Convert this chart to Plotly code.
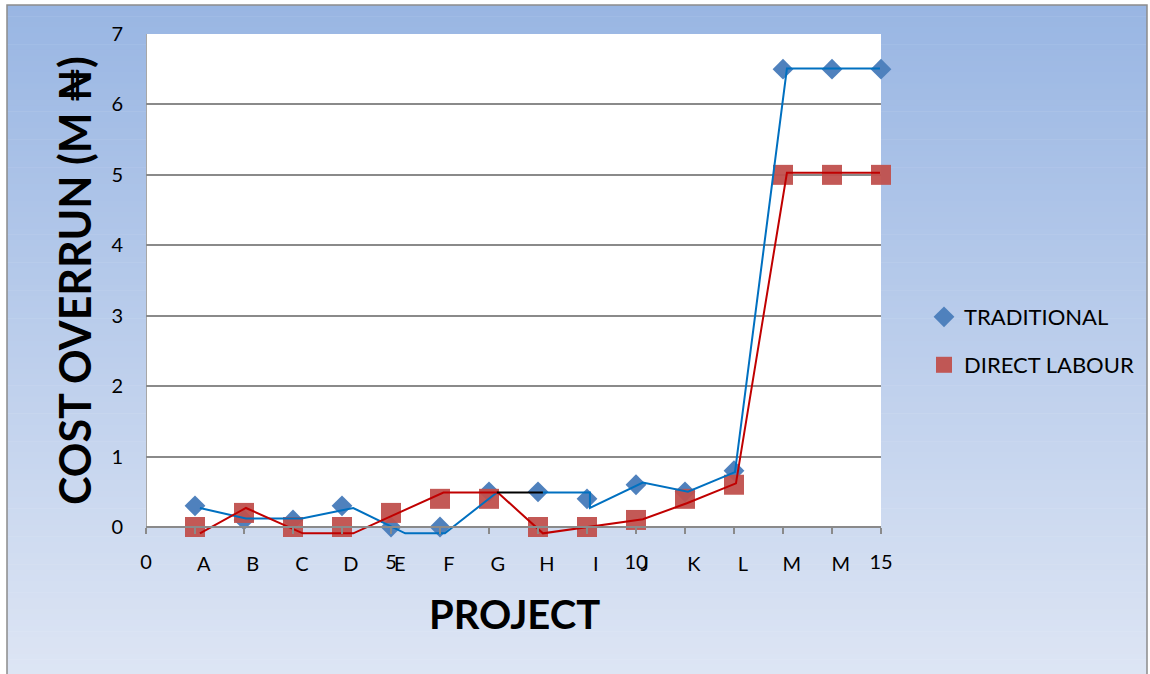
import plotly.graph_objects as go

# Projects and cost overrun (million naira)
projects = ["A", "B", "C", "D", "E", "F", "G", "H", "I", "J", "K", "L", "M", "M", "O"]
project_x = [1, 2, 3, 4, 5, 6, 7, 8, 9, 10, 11, 12, 13, 14, 15]
traditional = [0.3, 0.1, 0.1, 0.3, 0.0, 0.0, 0.5, 0.5, 0.4, 0.6, 0.5, 0.8, 6.5, 6.5, 6.5]
direct_labour = [0.0, 0.2, 0.0, 0.0, 0.2, 0.4, 0.4, 0.0, 0.0, 0.1, 0.4, 0.6, 5.0, 5.0, 5.0]

# Connecting line paths
trad_path_x = [1.10, 2.04, 3.18, 4.23, 5.29, 6.10, 7.16]
trad_path_y = [0.27, 0.12, 0.12, 0.27, -0.09, -0.09, 0.49]
trad_path2_x = [8.10, 9.06, 9.06, 10.14, 11.06, 12.02, 13.08, 14.98]
trad_path2_y = [0.49, 0.49, 0.27, 0.63, 0.50, 0.78, 6.51, 6.51]
link_x = [7.16, 8.10]
link_y = [0.49, 0.49]
labour_path_x = [1.10, 2.04, 3.20, 4.23, 6.07, 7.18, 8.10, 10.14, 11.05, 12.04, 13.08, 14.98]
labour_path_y = [-0.09, 0.27, -0.09, -0.09, 0.49, 0.49, -0.09, 0.11, 0.34, 0.62, 5.03, 5.03]

x_ticks = list(range(0, 16))
x_ticktext = [str(v) if v % 5 == 0 else "" for v in x_ticks]
y_ticks = list(range(0, 8))
Y_MAX = 7

FONT = "Lato, 'Noto Sans', 'DejaVu Sans', sans-serif"
GRID = "#8a8a8a"
BLUE_MK = "#4F81BD"
RED_MK = "#C0504D"
LABEL_SHIFT = 0.18

W, H = 1150, 674
# pixel layout of the value area (0..7) and the strip kept below zero for the lines
AX_LEFT, AX_RIGHT, AX_TOP, AX_ZERO = 146, 881, 34, 527
BELOW = 18
ML, MR, MT = AX_LEFT, W - AX_RIGHT, AX_TOP
MB = H - (AX_ZERO + BELOW)
PW = W - ML - MR
PH = H - MT - MB
unit_px = (AX_ZERO - AX_TOP) / Y_MAX
Y_MIN = -BELOW / unit_px
axis_pos = (0 - Y_MIN) / (Y_MAX - Y_MIN)


def px_to_paper_x(px):
    return (px - ML) / PW


def px_to_paper_y(py):
    return (H - MB - py) / PH


fig = go.Figure()

fig.add_trace(go.Scatter(
    x=project_x, y=traditional, mode="markers", name="TRADITIONAL",
    marker=dict(symbol="diamond", size=16, color=BLUE_MK),
    cliponaxis=False, legend="legend",
))
fig.add_trace(go.Scatter(
    x=project_x, y=direct_labour, mode="markers", name="DIRECT LABOUR",
    marker=dict(symbol="square", size=20, color=RED_MK, opacity=0.95),
    cliponaxis=False, legend="legend2",
))
fig.add_trace(go.Scatter(
    x=trad_path_x, y=trad_path_y, mode="lines", showlegend=False,
    line=dict(color="#0070C0", width=2), hoverinfo="skip",
))
fig.add_trace(go.Scatter(
    x=trad_path2_x, y=trad_path2_y, mode="lines", showlegend=False,
    line=dict(color="#0070C0", width=2), hoverinfo="skip",
))
fig.add_trace(go.Scatter(
    x=labour_path_x, y=labour_path_y, mode="lines", showlegend=False,
    line=dict(color="#C00000", width=2), hoverinfo="skip",
))
fig.add_trace(go.Scatter(
    x=link_x, y=link_y, mode="lines", showlegend=False,
    line=dict(color="#000000", width=2), hoverinfo="skip",
))
# Invisible trace that carries the project letter axis
fig.add_trace(go.Scatter(
    x=[v + LABEL_SHIFT for v in project_x], y=[None] * len(project_x),
    xaxis="x2", mode="markers", showlegend=False, hoverinfo="skip",
))

# Vertical gradient background of the chart frame
top_c = (153, 182, 227)
bot_c = (221, 229, 244)
frame_top, frame_bot, frame_l, frame_r = 5, 676, 7, 1147
n_bands = 120
shapes = []
for i in range(n_bands):
    t = i / (n_bands - 1)
    c = tuple(round(top_c[k] + (bot_c[k] - top_c[k]) * t) for k in range(3))
    y0 = frame_top + (frame_bot - frame_top) * i / n_bands
    y1 = frame_top + (frame_bot - frame_top) * (i + 1) / n_bands + 0.6
    shapes.append(dict(
        type="rect", xref="paper", yref="paper", layer="below",
        x0=px_to_paper_x(frame_l), x1=px_to_paper_x(frame_r),
        y0=px_to_paper_y(y1), y1=px_to_paper_y(y0),
        line=dict(width=0), fillcolor="rgb(%d,%d,%d)" % c,
    ))
# Frame outline
shapes.append(dict(
    type="rect", xref="paper", yref="paper", layer="below",
    x0=px_to_paper_x(frame_l), x1=px_to_paper_x(frame_r),
    y0=px_to_paper_y(frame_bot), y1=px_to_paper_y(frame_top),
    line=dict(width=1.5, color="#8c8c8c"), fillcolor="rgba(0,0,0,0)",
))
# White value area from 0 up to the top of the scale
shapes.append(dict(
    type="rect", xref="x", yref="y", layer="below",
    x0=0, x1=15, y0=0, y1=Y_MAX, line=dict(width=0), fillcolor="white",
))
# Vertical axis line
shapes.append(dict(
    type="line", xref="x", yref="y", layer="below",
    x0=0, x1=0, y0=0, y1=Y_MAX, line=dict(width=1.5, color=GRID),
))

legend_common = dict(
    xref="container", yref="container", xanchor="left", yanchor="middle",
    bgcolor="rgba(0,0,0,0)", font=dict(family=FONT, size=22, color="#000"),
    itemwidth=30,
)

fig.update_layout(
    width=W, height=H,
    margin=dict(l=ML, r=MR, t=MT, b=MB, pad=0, autoexpand=False),
    paper_bgcolor="white", plot_bgcolor="rgba(0,0,0,0)",
    font=dict(family=FONT, size=20, color="#000000"),
    shapes=shapes,
    showlegend=True,
    xaxis=dict(
        range=[0, 15], tickmode="array", tickvals=x_ticks, ticktext=x_ticktext,
        anchor="free", position=axis_pos,
        ticks="outside", ticklen=6, tickwidth=1.5, tickcolor=GRID,
        showline=True, linecolor=GRID, linewidth=1.5,
        showgrid=False, zeroline=False, ticklabelstandoff=11,
        tickfont=dict(family=FONT, size=20, color="#000"),
    ),
    xaxis2=dict(
        range=[0, 15], overlaying="x", anchor="free", position=axis_pos, side="bottom",
        tickmode="array", tickvals=[v + LABEL_SHIFT for v in project_x], ticktext=projects,
        ticks="", showline=False, showgrid=False, zeroline=False,
        ticklabelstandoff=23,
        tickfont=dict(family=FONT, size=20, color="#000"),
    ),
    yaxis=dict(
        range=[Y_MIN, Y_MAX], tickmode="array", tickvals=y_ticks,
        ticks="", showline=False,
        showgrid=True, gridcolor=GRID, gridwidth=1.5, zeroline=False,
        ticklabelstandoff=22,
        tickfont=dict(family=FONT, size=20, color="#000"),
    ),
    legend=dict(x=924 / W, y=1 - 317 / H, **legend_common),
    legend2=dict(x=924 / W, y=1 - 365 / H, **legend_common),
    annotations=[
        dict(
            text="<b>COST OVERRUN (M ₦)</b>", xref="paper", yref="paper",
            x=px_to_paper_x(74), y=px_to_paper_y(281), textangle=-90,
            xanchor="center", yanchor="middle", showarrow=False,
            font=dict(family=FONT, size=43, color="#000"),
        ),
        dict(
            text="<b>PROJECT</b>", xref="paper", yref="paper",
            x=px_to_paper_x(514), y=px_to_paper_y(614),
            xanchor="center", yanchor="middle", showarrow=False,
            font=dict(family=FONT, size=40, color="#000"),
        ),
    ],
)

fig.write_html("out.html")
